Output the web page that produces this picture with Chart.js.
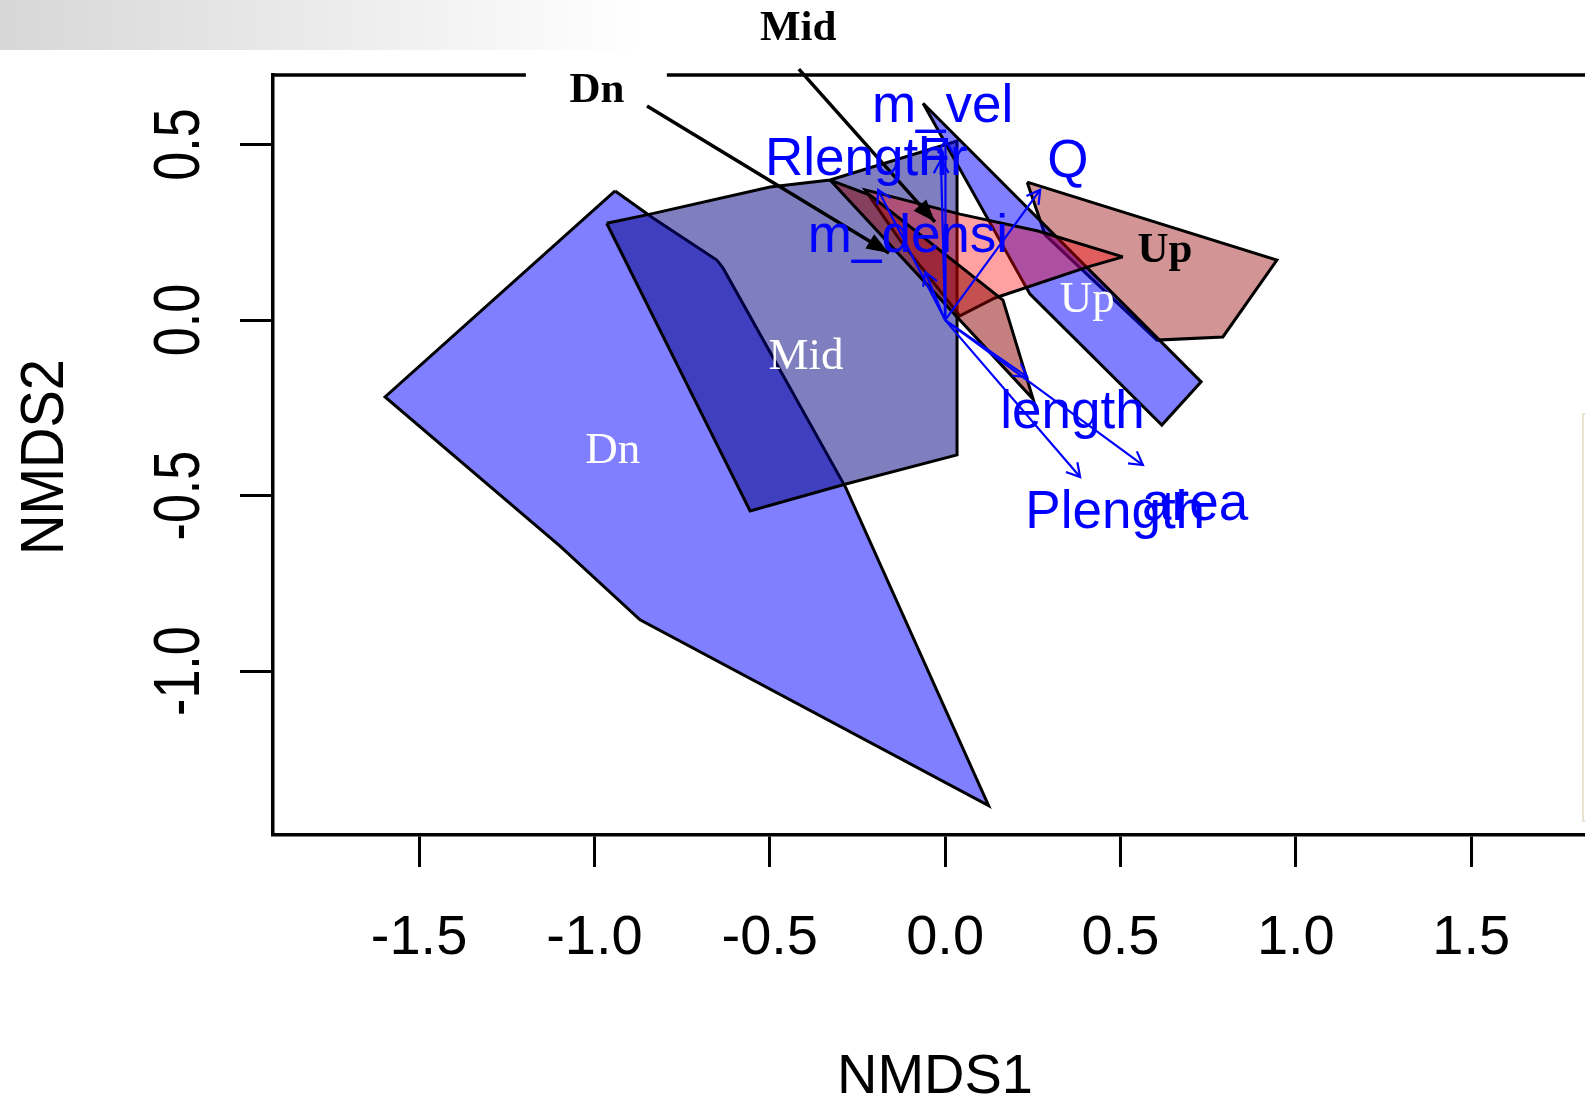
<!DOCTYPE html>
<html>
<head>
<meta charset="utf-8">
<title>NMDS</title>
<script src="https://cdn.jsdelivr.net/npm/chart.js@4.4.1/dist/chart.umd.min.js"></script>
<style>
  html, body { margin: 0; padding: 0; background: #fff; overflow: hidden; }
  #wrap { position: relative; width: 1585px; height: 1095px; overflow: hidden; }
  #band { position: absolute; left: 0; top: 0; width: 640px; height: 50px;
          background: linear-gradient(to right, #d7d7d7, #ffffff); }
  #legendEdge { position: absolute; left: 1582px; top: 413px; width: 30px; height: 405px;
          border: 2px solid #e8e4d1; }
  canvas { position: absolute; left: 0; top: 0; }
</style>
</head>
<body>
<div id="wrap">
  <div id="band"></div>
  <div id="legendEdge"></div>
  <canvas id="nmds" width="1585" height="1095"></canvas>
</div>
<script>
// axis ticks
const xTicks = [-1.5, -1.0, -0.5, 0.0, 0.5, 1.0, 1.5];
const xTickLabels = ['-1.5', '-1.0', '-0.5', '0.0', '0.5', '1.0', '1.5'];
const yTicks = [-1.0, -0.5, 0.0, 0.5];
const yTickLabels = ['-1.0', '-0.5', '0.0', '0.5'];
const xRange = [-1.9165, 1.8246];
const yRange = [-1.467, 0.6983];

// hulls, first grouping (white labels)
const dnX = [-0.941, -0.833, -0.651, -0.633, -0.283, 0.124, -0.870, -1.098, -1.597];
const dnY = [0.368, 0.291, 0.171, 0.148, -0.478, -1.383, -0.854, -0.644, -0.219];
const midX = [-0.965, -0.841, -0.499, -0.328, 0.034, 0.034, -0.283, -0.556];
const midY = [0.276, 0.302, 0.379, 0.399, 0.510, -0.384, -0.467, -0.544];
const upX = [-0.063, 0.730, 0.618, 0.242];
const upY = [0.618, -0.176, -0.299, 0.074];

// hulls, second grouping (black labels)
const dn2X = [-0.328, -0.214, 0.165, 0.251];
const dn2Y = [0.399, 0.356, 0.057, -0.225];
const mid2X = [0.507, 0.405, 0.142, 0.042, -0.129, -0.228, 0.042, 0.265];
const mid2Y = [0.180, 0.151, 0.063, 0.012, 0.228, 0.371, 0.302, 0.254];
const up2X = [0.234, 0.946, 0.792, 0.604, 0.285];
const up2Y = [0.393, 0.171, -0.048, -0.057, 0.243];

// fitted vectors
const vecNames = ['m_vel', 'Fr', 'Rlength', 'm_densi', 'Q', 'length', 'Plength', 'area'];
const vecX = [0.001, -0.012, -0.191, -0.057, 0.271, 0.234, 0.385, 0.564];
const vecY = [0.513, 0.456, 0.371, 0.137, 0.371, -0.162, -0.447, -0.413];
const vecLabelX = [-0.007, -0.007, -0.253, -0.106, 0.350, 0.363, 0.485, 0.713];
const vecLabelY = [0.564, 0.413, 0.413, 0.194, 0.408, -0.307, -0.592, -0.570];

// group labels
const whiteNames = ['Dn', 'Mid', 'Up'];
const whiteX = [-0.948, -0.397, 0.405];
const whiteY = [-0.408, -0.139, 0.024];
const blackNames = ['Dn', 'Mid', 'Up'];
const blackX = [-0.993, -0.419, 0.627];
const blackY = [0.622, 0.798, 0.166];
// pointers from the black labels
const ptrFromX = [-0.850, -0.417];
const ptrFromY = [0.610, 0.715];
const ptrToX = [-0.160, -0.029];
const ptrToY = [0.191, 0.280];

const sans = "'Liberation Sans', Arial, sans-serif";
const serif = "'Liberation Serif', 'Times New Roman', serif";

function pts(xs, ys, close) {
  const p = xs.map((x, i) => ({x: x, y: ys[i]}));
  if (close) p.push({x: xs[0], y: ys[0]});
  return p;
}

const hullSets = [
  {x: dnX, y: dnY, fill: 'rgba(0,0,255,0.5)'},
  {x: midX, y: midY, fill: 'rgba(0,0,128,0.5)'},
  {x: up2X, y: up2Y, fill: 'rgba(165,42,42,0.5)'},
  {x: upX, y: upY, fill: 'rgba(0,0,255,0.5)'},
  {x: mid2X, y: mid2Y, fill: 'rgba(255,0,0,0.37)'},
  {x: dn2X, y: dn2Y, fill: 'rgba(139,0,0,0.5)'}
];

const datasets = [];
hullSets.forEach(h => datasets.push({
  kind: 'hull', data: pts(h.x, h.y, true), hullFill: h.fill,
  showLine: true, borderColor: '#000', borderWidth: 3, pointRadius: 0, fill: false
}));
vecNames.forEach((n, i) => datasets.push({
  kind: 'vec', data: [{x: 0, y: 0}, {x: vecX[i], y: vecY[i]}],
  showLine: true, borderColor: '#0000ff', borderWidth: 2.2, pointRadius: 0
}));
ptrFromX.forEach((x, i) => datasets.push({
  kind: 'ptr', data: [{x: x, y: ptrFromY[i]}, {x: ptrToX[i], y: ptrToY[i]}],
  showLine: true, borderColor: '#000', borderWidth: 3.5, pointRadius: 0, clip: false
}));
// first dataset in the list goes to the bottom
datasets.forEach((d, i) => { d.order = datasets.length - i; });

function head(ctx, p0, p1, len, half, filled) {
  const ang = Math.atan2(p1.y - p0.y, p1.x - p0.x);
  const q1 = {x: p1.x - len * Math.cos(ang - half), y: p1.y - len * Math.sin(ang - half)};
  const q2 = {x: p1.x - len * Math.cos(ang + half), y: p1.y - len * Math.sin(ang + half)};
  ctx.beginPath();
  ctx.moveTo(q1.x, q1.y);
  ctx.lineTo(p1.x, p1.y);
  ctx.lineTo(q2.x, q2.y);
  if (filled) { ctx.closePath(); ctx.fill(); } else ctx.stroke();
}

const nmdsDraw = {
  id: 'nmdsDraw',
  beforeDatasetsDraw(chart) {
    const {ctx, chartArea: a} = chart;
    ctx.save();
    ctx.strokeStyle = '#000';
    ctx.lineWidth = 3.5;
    ctx.beginPath();
    ctx.moveTo(a.left - 1.5, a.top);
    ctx.lineTo(a.right + 2, a.top);
    ctx.stroke();
    ctx.restore();
  },
  beforeDatasetDraw(chart, args) {
    const ds = chart.data.datasets[args.index];
    if (ds.kind !== 'hull') return;
    const {ctx, chartArea: a} = chart;
    const p = args.meta.data;
    ctx.save();
    ctx.beginPath();
    ctx.rect(a.left, a.top, a.right - a.left, a.bottom - a.top);
    ctx.clip();
    ctx.beginPath();
    ctx.moveTo(p[0].x, p[0].y);
    for (let i = 1; i < p.length; i++) ctx.lineTo(p[i].x, p[i].y);
    ctx.closePath();
    ctx.fillStyle = ds.hullFill;
    ctx.fill();
    ctx.restore();
  },
  afterDatasetDraw(chart, args) {
    const ds = chart.data.datasets[args.index];
    const p = args.meta.data;
    const ctx = chart.ctx;
    ctx.save();
    if (ds.kind === 'vec') {
      ctx.strokeStyle = '#0000ff';
      ctx.lineWidth = 2.2;
      head(ctx, p[0], p[1], 15, Math.PI / 6, false);
    } else if (ds.kind === 'ptr') {
      ctx.fillStyle = '#000';
      head(ctx, p[0], p[1], 24, 0.36, true);
    }
    ctx.restore();
  },
  afterDatasetsDraw(chart) {
    const {ctx, chartArea: a} = chart;
    const xs = chart.scales.x, ys = chart.scales.y;
    ctx.save();

    // vector labels
    ctx.fillStyle = '#0000ff';
    ctx.font = '53px ' + sans;
    ctx.textAlign = 'center';
    ctx.textBaseline = 'alphabetic';
    vecNames.forEach((n, i) => {
      ctx.fillText(n, xs.getPixelForValue(vecLabelX[i]), ys.getPixelForValue(vecLabelY[i]));
    });

    // white group labels
    ctx.fillStyle = '#fff';
    ctx.font = '45px ' + serif;
    whiteNames.forEach((n, i) => {
      ctx.fillText(n, xs.getPixelForValue(whiteX[i]), ys.getPixelForValue(whiteY[i]));
    });

    // black group labels, the top one on a white box
    ctx.font = 'bold 43px ' + serif;
    blackNames.forEach((n, i) => {
      const px = xs.getPixelForValue(blackX[i]), py = ys.getPixelForValue(blackY[i]);
      if (i === 0) {
        ctx.fillStyle = '#fff';
        ctx.fillRect(px - 71, py - 42, 141, 44);
      }
      ctx.fillStyle = '#000';
      ctx.fillText(n, px, py);
    });

    // y tick labels, R style (parallel to the axis)
    ctx.font = '56px ' + sans;
    ctx.fillStyle = '#000';
    yTicks.forEach((v, i) => {
      ctx.save();
      ctx.translate(a.left - 74, ys.getPixelForValue(v));
      ctx.rotate(-Math.PI / 2);
      ctx.scale(0.93, 1.17);
      ctx.fillText(yTickLabels[i], 0, 0);
      ctx.restore();
    });

    // axis titles
    ctx.fillText('NMDS1', (a.left + a.right) / 2 + 6, 1093);
    ctx.save();
    ctx.translate(63, (a.top + a.bottom) / 2 + 2);
    ctx.rotate(-Math.PI / 2);
    ctx.scale(1, 1.08);
    ctx.fillText('NMDS2', 0, 0);
    ctx.restore();

    ctx.restore();
  }
};

new Chart(document.getElementById('nmds'), {
  type: 'scatter',
  data: { datasets: datasets },
  options: {
    responsive: false,
    animation: false,
    events: [],
    layout: { padding: { left: 0, top: 75, right: 0, bottom: 0 } },
    plugins: { legend: { display: false }, tooltip: { enabled: false } },
    scales: {
      x: {
        type: 'linear', min: xRange[0], max: xRange[1],
        afterBuildTicks: s => { s.ticks = xTicks.map(v => ({value: v})); },
        afterFit: s => { s.height = 260; },
        grid: { drawOnChartArea: false, drawTicks: true, tickLength: 32, tickWidth: 3, tickColor: '#000' },
        border: { display: true, color: '#000', width: 3.5 },
        ticks: {
          font: { family: sans, size: 56 }, color: '#000', padding: 38,
          maxRotation: 0, autoSkip: false,
          callback: (v, i) => xTickLabels[i]
        }
      },
      y: {
        type: 'linear', min: yRange[0], max: yRange[1],
        afterBuildTicks: s => { s.ticks = yTicks.map(v => ({value: v})); },
        afterFit: s => { s.width = 273; },
        grid: { drawOnChartArea: false, drawTicks: true, tickLength: 33, tickWidth: 3, tickColor: '#000' },
        border: { display: true, color: '#000', width: 3.5 },
        ticks: { display: false }
      }
    }
  },
  plugins: [nmdsDraw]
});
</script>
</body>
</html>
